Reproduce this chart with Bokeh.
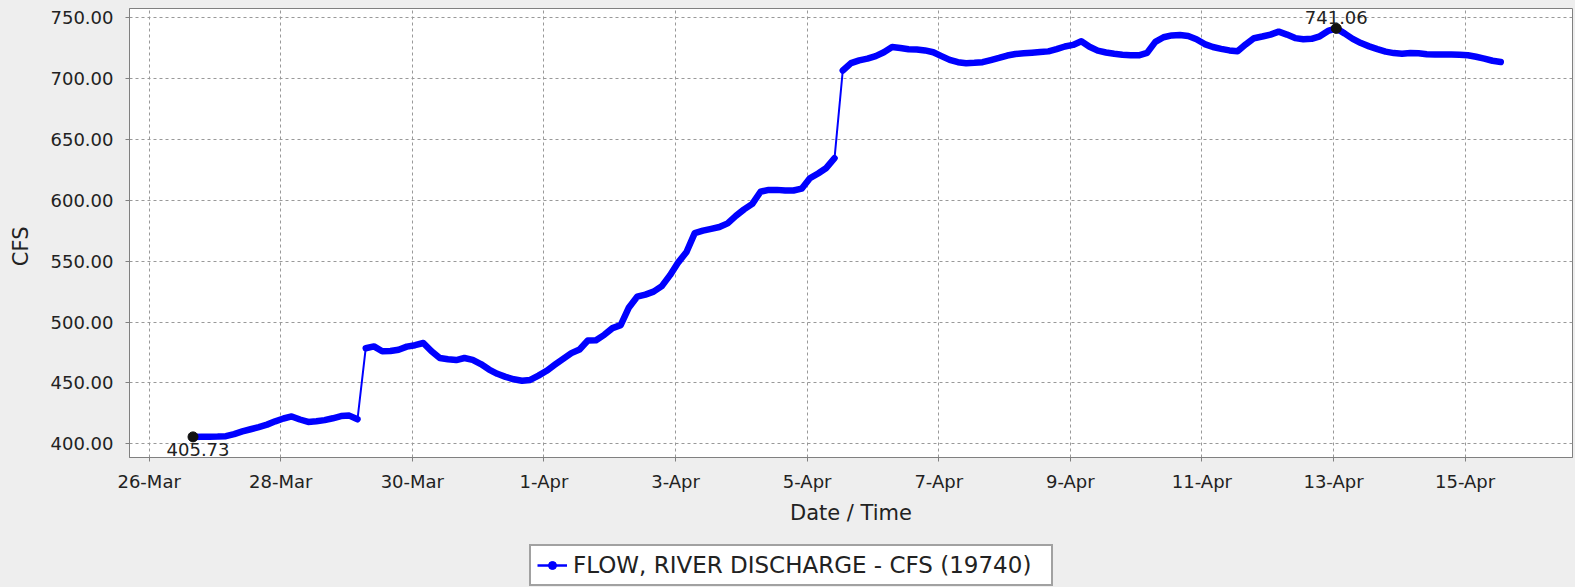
import numpy as np
import pandas as pd
from bokeh.plotting import figure
from bokeh.layouts import column
from bokeh.models import Range1d, FixedTicker, PrintfTickFormatter, Legend, LegendItem
from bokeh.core.properties import value
from bokeh.embed import file_html
from bokeh.resources import INLINE

# ---------------- data ----------------
series_name = "FLOW, RIVER DISCHARGE - CFS (19740)"
start_time = "2024-03-26 16:00"
step_hours = 3
flow_cfs = [
    405.73, 405.8, 405.9, 406.0, 406.3, 408.0, 410.2, 412.0,
    413.8, 415.8, 418.5, 420.8, 422.5, 420.0, 418.0, 418.6,
    419.5, 421.0, 422.8, 423.2, 420.2, 478.5, 480.0, 476.0,
    476.2, 477.3, 479.8, 481.0, 482.8, 476.0, 470.5, 469.5,
    468.8, 470.5, 469.0, 465.5, 461.0, 457.5, 455.0, 453.0,
    451.8, 452.5, 456.0, 460.0, 465.0, 469.8, 474.5, 477.5,
    484.8, 485.0, 489.5, 495.0, 497.5, 512.0, 520.8, 522.5,
    525.0, 529.5, 538.5, 549.0, 557.5, 573.0, 575.0, 576.5,
    578.0, 581.0, 587.2, 592.5, 597.0, 607.0, 608.5, 608.5,
    608.0, 608.0, 609.5, 618.0, 622.0, 626.5, 634.5, 706.5,
    712.5, 714.8, 716.2, 718.3, 721.5, 725.8, 725.0, 724.0,
    723.8, 723.0, 721.5, 718.3, 715.2, 713.3, 712.5, 712.8,
    713.3, 715.0, 716.8, 718.8, 720.0, 720.6, 721.1, 721.6,
    722.2, 724.0, 726.2, 727.5, 730.5, 726.0, 722.8, 721.3,
    720.2, 719.4, 719.0, 719.0, 721.0, 730.0, 733.8, 735.3,
    735.6, 734.8, 732.2, 728.2, 725.8, 724.3, 723.0, 722.3,
    728.0, 733.0, 734.4, 736.0, 738.4, 736.0, 733.1, 732.2,
    732.5, 734.6, 739.0, 741.06, 737.0, 732.5, 729.0, 726.3,
    724.0, 722.0, 720.8, 720.3, 720.8, 720.6, 719.8, 719.7,
    719.7, 719.6, 719.4, 719.0, 717.8, 716.3, 714.5, 713.5,
]
tick_dates = ["2024-03-26", "2024-03-28", "2024-03-30", "2024-04-01", "2024-04-03",
              "2024-04-05", "2024-04-07", "2024-04-09", "2024-04-11", "2024-04-13",
              "2024-04-15"]
tick_labels = ["26-Mar", "28-Mar", "30-Mar", "1-Apr", "3-Apr", "5-Apr",
               "7-Apr", "9-Apr", "11-Apr", "13-Apr", "15-Apr"]
y_ticks = [400, 450, 500, 550, 600, 650, 700, 750]
x_start, x_end = "2024-03-25 16:50", "2024-04-16 15:10"
y_start, y_end = 388.8, 757.4
jump_threshold = 30.0   # a rise larger than this between samples is drawn as a thin step

# ---------------- derived ----------------
flow = np.array(flow_cfs)
times = pd.Timestamp(start_time) + pd.to_timedelta(np.arange(len(flow)) * step_hours, unit="h")
t_ms = times.values.astype("datetime64[ms]").astype("int64").astype(float)
tick_ms = [float(pd.Timestamp(d).value // 10**6) for d in tick_dates]

# thick trace broken (NaN) where the series jumps, so the jumps stay thin
jumps = np.where(np.abs(np.diff(flow)) > jump_threshold)[0]
band_t = np.insert(t_ms, jumps + 1, (t_ms[jumps] + t_ms[jumps + 1]) / 2)
band_y = np.insert(flow, jumps + 1, np.nan)

FONT = "DejaVu Sans"
GRAY = "#808080"
BLUE = "#0000ff"
BG = "#eeeeee"

p = figure(width=1575, height=532, x_axis_type="datetime",
           output_backend="svg", toolbar_location=None,
           x_range=Range1d(pd.Timestamp(x_start), pd.Timestamp(x_end)),
           y_range=Range1d(y_start, y_end),
           min_border_left=129, min_border_right=3, min_border_top=8,
           min_border_bottom=75,
           background_fill_color="white", border_fill_color=BG,
           outline_line_color=GRAY)

# grids
for g in (p.xgrid, p.ygrid):
    g.grid_line_color = "#999999"
    g.grid_line_dash = "3 3"
    g.grid_line_width = 1

# axes
p.yaxis.ticker = FixedTicker(ticks=y_ticks)
p.yaxis.formatter = PrintfTickFormatter(format="%.2f")
p.xaxis.ticker = FixedTicker(ticks=tick_ms)
p.xaxis.major_label_overrides = dict(zip(tick_ms, tick_labels))
for ax in (p.xaxis[0], p.yaxis[0]):
    ax.axis_line_color = GRAY
    ax.major_tick_line_color = GRAY
    ax.major_tick_out = 4
    ax.major_tick_in = 0
    ax.minor_tick_line_color = None
    ax.major_label_text_font = FONT
    ax.major_label_text_font_size = "18px"
    ax.major_label_text_color = "#222222"
    ax.axis_label_text_font = FONT
    ax.axis_label_text_font_style = "normal"
    ax.axis_label_text_font_size = "21px"
    ax.axis_label_text_color = "#222222"
p.xaxis.axis_label = "Date / Time"
p.yaxis.axis_label = "CFS\u00a0\u00a0\u00a0\u00a0"
p.xaxis.major_label_standoff = 9
p.xaxis.axis_label_standoff = 6
p.yaxis.major_label_standoff = 12
p.yaxis.axis_label_standoff = 15

# series: thin connecting line + thick band of dense points
p.line(t_ms, flow, line_color=BLUE, line_width=2)
p.line(band_t, band_y, line_color=BLUE, line_width=6.5,
       line_join="round", line_cap="round")

# min / max annotations
imin = int(np.argmin(flow))
imax = int(np.argmax(flow))
p.scatter([t_ms[imin], t_ms[imax]], [flow[imin], flow[imax]], size=10, color="#111111")
p.text(x=[t_ms[imin]], y=[flow[imin]], text=[f"{flow[imin]:.2f}"],
       text_align="center", text_baseline="top", x_offset=5, y_offset=6,
       text_font=value(FONT), text_font_size="18px", text_color="#222222")
p.text(x=[t_ms[imax]], y=[flow[imax]], text=[f"{flow[imax]:.2f}"],
       text_align="center", text_baseline="bottom", x_offset=0, y_offset=-4,
       text_font=value(FONT), text_font_size="18px", text_color="#222222")

# legend strip under the chart
lf = figure(width=1575, height=55, output_backend="svg", toolbar_location=None,
            x_range=Range1d(0, 1), y_range=Range1d(0, 1),
            x_axis_location=None, y_axis_location=None,
            min_border=0, min_border_left=0, min_border_right=0,
            min_border_top=0, min_border_bottom=0,
            background_fill_color=BG, border_fill_color=BG, outline_line_color=None)
lf.grid.visible = False
key_line = lf.line(x=[-5, -4], y=[-5, -4], line_color=BLUE, line_width=2.5)
key_pt = lf.scatter(x=[-5], y=[-5], size=7, color=BLUE)
legend = Legend(items=[LegendItem(label=series_name, renderers=[key_line, key_pt])],
                location=(400, 1), orientation="horizontal",
                border_line_color="#444444", border_line_width=2,
                background_fill_color="white", background_fill_alpha=1.0,
                label_text_font=FONT, label_text_font_size="23px",
                label_text_color="#222222", glyph_width=30, label_standoff=6,
                label_width=472, padding=6, margin=0)
lf.add_layout(legend)

layout = column(p, lf, spacing=0)
html = file_html(layout, INLINE)
html = html.replace("</head>", "<style>body{background:#eeeeee;}</style></head>", 1)
open("out.html", "w").write(html)
